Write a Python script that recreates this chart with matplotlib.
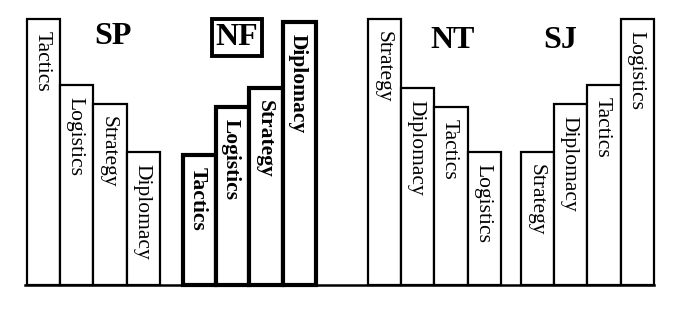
'''
Four groups of ranked skill bars (SP, NF, NT, SJ).
'''

import numpy as np
import matplotlib
matplotlib.use("Agg")
import matplotlib.pyplot as plt

plt.rcParams['font.family'] = ['Liberation Serif', 'DejaVu Serif']

# --------------------------------------------------------------
#                           DATA
# --------------------------------------------------------------

groups = ["SP", "NF", "NT", "SJ"]

sp_skills = ["Tactics", "Logistics", "Strategy", "Diplomacy"]
sp_values = [100, 75, 68, 50]

nf_skills = ["Tactics", "Logistics", "Strategy", "Diplomacy"]
nf_values = [49, 67, 74, 99]

nt_skills = ["Strategy", "Diplomacy", "Tactics", "Logistics"]
nt_values = [100, 74, 67, 50]

sj_skills = ["Strategy", "Diplomacy", "Tactics", "Logistics"]
sj_values = [50, 68, 75, 100]

# --------------------------------------------------------------
#                           LAYOUT
# --------------------------------------------------------------

group_start = [0, 4.7, 10.27, 14.88]      # left edge of each group, bar units
group_label_xy = [(2.59, 93.2), (6.33, 93.0), (12.83, 92.0), (16.05, 92.0)]
highlight = "NF"                           # the group drawn with heavy lines

fig = plt.figure(figsize=(6.85, 3.10), dpi=100)
ax = fig.add_axes([0, 0, 1, 1])
ax.set_xlim(-0.813, 19.82)
ax.set_ylim(-9.4, 107.1)
ax.axis("off")

all_skills = [sp_skills, nf_skills, nt_skills, sj_skills]
all_values = [sp_values, nf_values, nt_values, sj_values]

for g, name in enumerate(groups):
    heavy = (name == highlight)
    lw = 3.0 if heavy else 1.6
    x = group_start[g] + np.arange(4) + 0.5
    ax.bar(x, all_values[g], width=1.0, color="white",
           edgecolor="black", linewidth=lw, zorder=2)
    for xi, h, s in zip(x, all_values[g], all_skills[g]):
        ax.text(xi - 0.05, h - 4.5, s, rotation=-90, ha="center", va="top",
                fontsize=15.5, fontweight="bold" if heavy else "normal",
                zorder=3)
    lx, ly = group_label_xy[g]
    if heavy:
        ax.text(lx, ly, name, ha="center", va="center", fontsize=23,
                fontweight="bold",
                bbox=dict(boxstyle="square,pad=0.12", facecolor="white",
                          edgecolor="black", linewidth=2.8))
    else:
        ax.text(lx, ly, name, ha="center", va="center", fontsize=23,
                fontweight="bold")

# baseline under all the bars
ax.plot([-0.06, group_start[-1] + 4], [0, 0], color="black",
        linewidth=1.8, zorder=4)

plt.savefig("out.png", dpi=100, facecolor="white")
plt.close()
